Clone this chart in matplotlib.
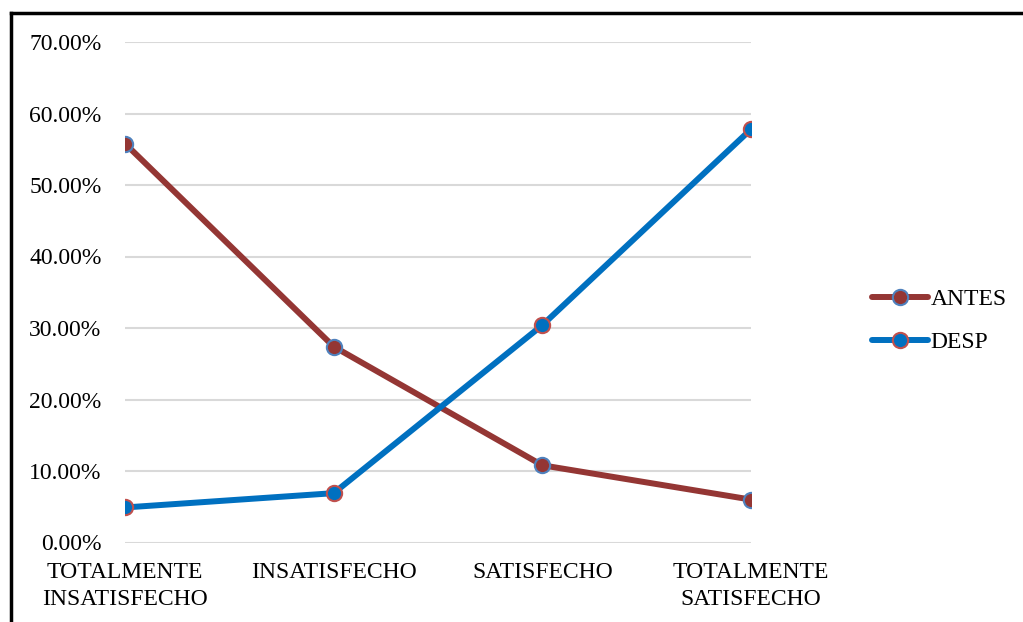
import matplotlib
matplotlib.use("Agg")
import matplotlib.pyplot as plt
from matplotlib.lines import Line2D
from matplotlib.ticker import FuncFormatter

categories = ["TOTALMENTE\nINSATISFECHO", "INSATISFECHO", "SATISFECHO", "TOTALMENTE\nSATISFECHO"]
antes = [55.8, 27.4, 10.8, 6.0]
desp = [4.9, 6.9, 30.4, 57.8]
y_ticks = [0, 10, 20, 30, 40, 50, 60, 70]

plt.rcParams["font.family"] = ["Liberation Serif", "DejaVu Serif"]

W, H = 1023, 622
fig = plt.figure(figsize=(W / 100, H / 100), dpi=100)

left, right = 125 / W, 751 / W
bottom, top = 1 - 542.5 / H, 1 - 42 / H
ax = fig.add_axes([left, bottom, right - left, top - bottom])

x = list(range(len(categories)))
ax.plot(x, antes, color="#943634", lw=4.3, marker="o", ms=11,
        mfc="#943634", mec="#4F81BD", mew=1.5, label="ANTES", zorder=3,
        solid_capstyle="round")
ax.plot(x, desp, color="#0070C0", lw=4.3, marker="o", ms=11,
        mfc="#0070C0", mec="#C0504D", mew=1.5, label="DESP", zorder=3,
        solid_capstyle="round")

ax.set_xlim(0, 3)
ax.set_ylim(0, 70)
ax.set_yticks(y_ticks)
ax.yaxis.set_major_formatter(FuncFormatter(lambda v, p: f"{v:.2f}%"))
ax.set_xticks(x)
ax.set_xticklabels(categories, linespacing=1.4)
ax.tick_params(axis="both", length=0, labelsize=17, colors="black")
ax.tick_params(axis="y", pad=17)
ax.tick_params(axis="x", pad=14)
ax.grid(axis="y", color="#D9D9D9", lw=1.5)
ax.set_axisbelow(True)
for s in ax.spines.values():
    s.set_visible(False)

leg = fig.legend(loc="center left", bbox_to_anchor=(860 / W, 1 - 321 / H),
                 frameon=False, fontsize=17, handlelength=2.4,
                 handletextpad=0.1, labelspacing=0.9, borderpad=0)

# Outer frame of the figure
frame_kw = dict(color="black", lw=2.5, transform=fig.transFigure, clip_on=False)
fig.add_artist(Line2D([10.5 / W, 1.02], [1 - 12.5 / H, 1 - 12.5 / H], **frame_kw))
fig.add_artist(Line2D([10.5 / W, 10.5 / W], [1 - 12.5 / H, -0.02], **frame_kw))

fig.savefig("out.png", dpi=100)
